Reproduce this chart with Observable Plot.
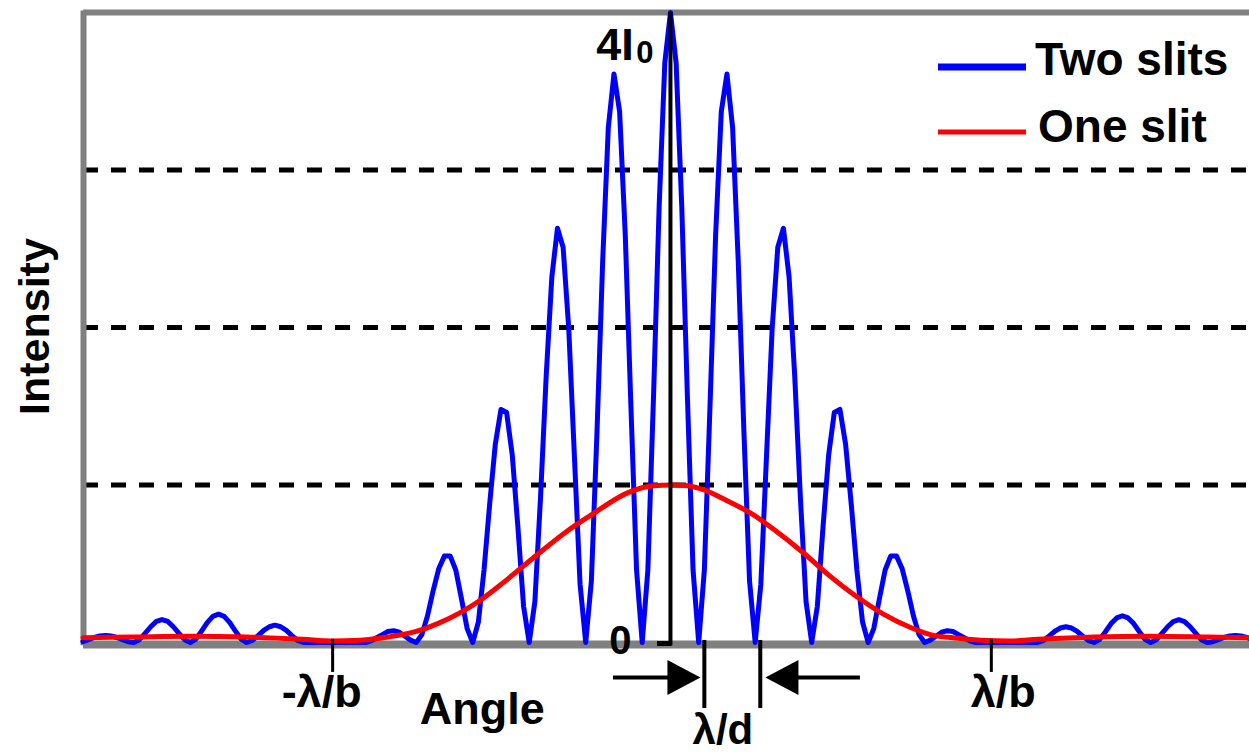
<!DOCTYPE html>
<html>
<head>
<meta charset="utf-8">
<script src="https://cdn.jsdelivr.net/npm/d3@7"></script>
<script src="https://cdn.jsdelivr.net/npm/@observablehq/plot@0.6"></script>
<style>
  body { margin: 0; background: #fff; overflow: hidden; }
  #wrap { position: relative; width: 1249px; height: 756px; }
  #legend { position: absolute; left: 0; top: 0; pointer-events: none; }
</style>
</head>
<body>
<div id="wrap"></div>
<script>
// ---------------- data (angle in units of λ/d, intensity in units of I0) ----------------
// Two-slit curve on a sampling grid of 0.1 λ/d starting at -10.4
const twoSlitStart = -10.4;
const twoSlitStep = 0.1;
const twoSlitIntensity = [
  // order -10
  0.005, 0.018, 0.032, 0.041, 0.045, 0.041, 0.032, 0.018, 0.005, 0,
  // order -9
  0.018, 0.058, 0.10, 0.134, 0.146, 0.134, 0.10, 0.058, 0.018, 0,
  // order -8
  0.022, 0.072, 0.126, 0.166, 0.18, 0.166, 0.126, 0.072, 0.022, 0,
  // order -7
  0.013, 0.044, 0.077, 0.10, 0.11, 0.10, 0.077, 0.044, 0.013, 0,
  // order -6
  0, 0, 0, 0, 0, 0, 0, 0, 0, 0,
  // order -5
  0, 0.01, 0.03, 0.05, 0.07, 0.075, 0.065, 0.04, 0.015, 0,
  // order -4
  0.05, 0.17, 0.33, 0.47, 0.55, 0.55, 0.46, 0.28, 0.09, 0,
  // order -3
  0.13, 0.46, 0.88, 1.26, 1.48, 1.46, 1.19, 0.73, 0.23, 0,
  // order -2
  0.26, 0.92, 1.69, 2.32, 2.63, 2.51, 1.99, 1.18, 0.37, 0,
  // order -1
  0.39, 1.34, 2.42, 3.27, 3.61, 3.37, 2.59, 1.50, 0.46, 0,
  // order 0
  0.46, 1.56, 2.77, 3.68, 4.0, 3.68, 2.77, 1.56, 0.46, 0,
  // order 1
  0.46, 1.50, 2.59, 3.37, 3.61, 3.27, 2.42, 1.34, 0.39, 0,
  // order 2
  0.37, 1.18, 1.99, 2.51, 2.63, 2.32, 1.69, 0.92, 0.26, 0,
  // order 3
  0.23, 0.73, 1.19, 1.46, 1.48, 1.26, 0.88, 0.46, 0.13, 0,
  // order 4
  0.09, 0.28, 0.46, 0.55, 0.55, 0.47, 0.33, 0.17, 0.05, 0,
  // order 5
  0.015, 0.04, 0.065, 0.075, 0.07, 0.05, 0.03, 0.01, 0, 0,
  // order 6
  0, 0, 0, 0, 0, 0, 0, 0, 0, 0,
  // order 7
  0.012, 0.04, 0.07, 0.092, 0.10, 0.092, 0.07, 0.04, 0.012, 0,
  // order 8
  0.02, 0.068, 0.12, 0.156, 0.17, 0.156, 0.12, 0.068, 0.02, 0,
  // order 9
  0.017, 0.058, 0.10, 0.133, 0.145, 0.133, 0.10, 0.058, 0.017, 0,
  // order 10
  0.005, 0.018, 0.032, 0.041, 0.045, 0.041, 0.032, 0.018
];

// One-slit curve
const oneSlitAngle = [-10.4, -9.5, -8.5, -7.5, -6.5, -6.0, -5.5, -5.0, -4.5, -4.12, -3.72, -3.36, -2.96,
  -2.42, -1.82, -1.36, -0.76, -0.3, 0, 0.3, 0.58, 1.0, 1.47, 1.82, 2.35, 2.83, 3.3, 3.77, 4.25, 4.65,
  5.0, 5.5, 6.0, 6.5, 7.5, 8.5, 9.5, 10.3];
const oneSlitIntensity = [0.03, 0.035, 0.04, 0.035, 0.02, 0.01, 0.015, 0.035, 0.07, 0.12, 0.19, 0.27, 0.38,
  0.54, 0.71, 0.82, 0.95, 0.995, 1.0, 0.995, 0.97, 0.9, 0.81, 0.72, 0.57, 0.42, 0.29, 0.18, 0.095, 0.045,
  0.03, 0.015, 0.01, 0.02, 0.035, 0.04, 0.035, 0.03];

const gridLevels = [1, 2, 3];                 // I0, 2I0, 3I0
const angleTicks = [-5.98, 5.68];             // -λ/b, λ/b
const angleTickLabels = ["-λ/b", "λ/b"];
const lambdaDEdges = [0.6, 1.59];             // λ/d spacing markers
const seriesNames = ["Two slits", "One slit"];
const seriesColors = ["#0000ff", "#ff0000"];

// ---------------- build tables ----------------
const twoSlit = twoSlitIntensity.map((v, i) => ({angle: +(twoSlitStart + i * twoSlitStep).toFixed(2), intensity: v}));
const oneSlit = oneSlitAngle.map((a, i) => ({angle: a, intensity: oneSlitIntensity[i]}));

const xMin = -10.39, xMax = 10.25;
const font = "Liberation Sans, Arial, Helvetica, sans-serif";
const gray = "#808080";

const triRight = {draw(ctx) { ctx.moveTo(20, 0); ctx.lineTo(-13, -17.5); ctx.lineTo(-13, 17.5); ctx.closePath(); }};
const triLeft = {draw(ctx) { ctx.moveTo(-20, 0); ctx.lineTo(13, -17.5); ctx.lineTo(13, 17.5); ctx.closePath(); }};

const txt = {fill: "black", fontWeight: "bold", fontFamily: font, lineAnchor: "middle", textAnchor: "middle"};

const chart = Plot.plot({
  width: 1249,
  height: 756,
  marginLeft: 83,
  marginRight: 0,
  marginTop: 12,
  marginBottom: 114,
  style: {fontFamily: font, background: "white", overflow: "visible"},
  x: {domain: [xMin, xMax], axis: null},
  y: {domain: [0, 4], axis: null},
  marks: [
    Plot.ruleY(gridLevels, {stroke: "black", strokeWidth: 5, strokeDasharray: "15,13"}),
    Plot.ruleY([4], {stroke: gray, strokeWidth: 6}),
    Plot.ruleY([0], {stroke: gray, strokeWidth: 8, dy: 2}),
    Plot.ruleX([xMin], {y1: -0.02, y2: 4.01, stroke: gray, strokeWidth: 6}),
    Plot.line(twoSlit, {x: "angle", y: "intensity", stroke: seriesColors[0], strokeWidth: 5}),
    Plot.line(oneSlit, {x: "angle", y: "intensity", stroke: seriesColors[1], strokeWidth: 5, curve: "monotone-x"}),
    Plot.ruleX([0], {y1: -0.02, y2: 4, stroke: "black", strokeWidth: 4}),
    Plot.ruleY([0], {x1: -0.23, x2: 0.03, stroke: "black", strokeWidth: 5, dy: 1}),
    Plot.ruleX(angleTicks, {y1: 0.02, y2: -0.19, stroke: "black", strokeWidth: 3}),
    Plot.text([angleTickLabels[0]], {...txt, x: angleTicks[0], y: -0.321, dx: -11, fontSize: 45}),
    Plot.text([angleTickLabels[1]], {...txt, x: angleTicks[1], y: -0.321, dx: 12, fontSize: 45}),
    Plot.text(["Angle"], {...txt, x: -3.33, y: -0.423, fontSize: 45}),
    Plot.text(["λ/d"], {...txt, x: 0.929, y: -0.56, fontSize: 42}),
    Plot.text(["0"], {...txt, x: -0.885, y: 0.011, fontSize: 40}),
    Plot.text(["4I"], {...txt, x: -0.982, y: 3.787, fontSize: 45}),
    Plot.text(["0"], {...txt, x: -0.451, y: 3.741, fontSize: 31}),
    Plot.text(["Intensity"], {...txt, x: xMin, y: 2.006, dx: -48, rotate: -90, fontSize: 43}),
    Plot.ruleX(lambdaDEdges, {y1: 0.013, y2: -0.419, stroke: "black", strokeWidth: 4}),
    Plot.ruleY([-0.222], {x1: -1.009, x2: 0.177, stroke: "black", strokeWidth: 4}),
    Plot.ruleY([-0.222], {x1: 2.035, x2: 3.363, stroke: "black", strokeWidth: 4}),
    Plot.dot([0.177], {x: d => d, y: -0.222, symbol: triRight, fill: "black", stroke: null}),
    Plot.dot([2.035], {x: d => d, y: -0.222, symbol: triLeft, fill: "black", stroke: null})
  ]
});

const wrap = document.getElementById("wrap");
wrap.appendChild(chart);

// ---------------- legend (overlaid at top right) ----------------
const legend = d3.create("svg").attr("id", "legend").attr("width", 1249).attr("height", 160);
const rows = [
  {y: 67, w: 7, base: 75, tx: 1035},
  {y: 132, w: 5, base: 142, tx: 1038}
];
seriesNames.forEach((name, i) => {
  legend.append("line").attr("x1", 938).attr("x2", 1026).attr("y1", rows[i].y).attr("y2", rows[i].y)
    .attr("stroke", seriesColors[i]).attr("stroke-width", rows[i].w);
  legend.append("text").attr("x", rows[i].tx).attr("y", rows[i].base).text(name)
    .attr("font-family", font).attr("font-weight", "bold").attr("font-size", 46).attr("fill", "black");
});
wrap.appendChild(legend.node());
</script>
</body>
</html>
